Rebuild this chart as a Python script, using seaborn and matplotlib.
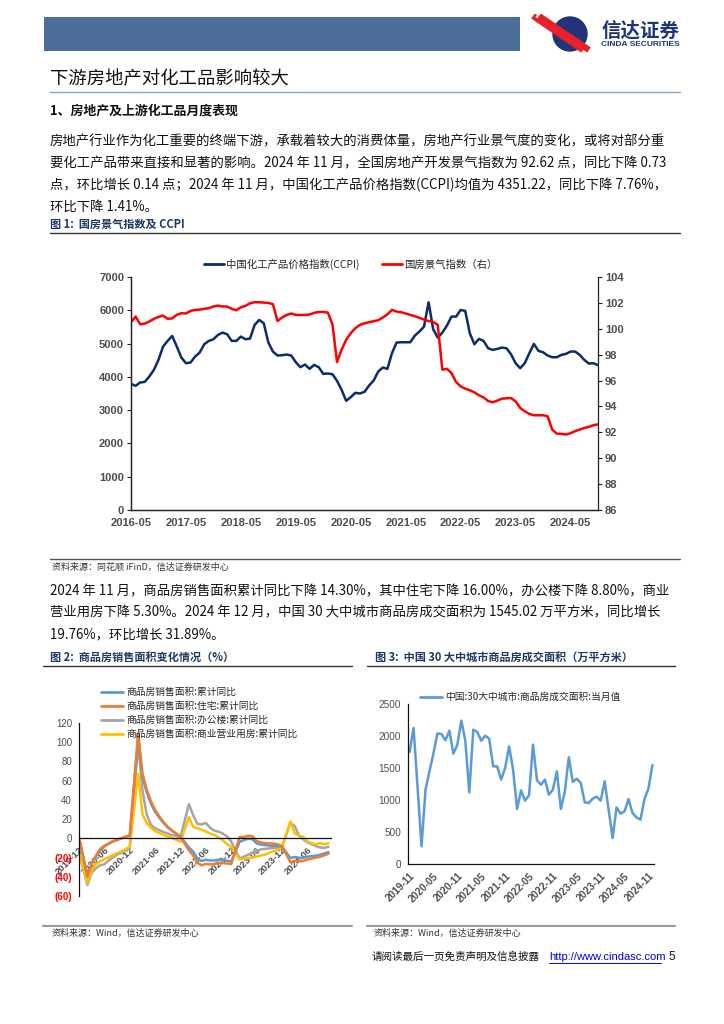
import numpy as np
import pandas as pd
import matplotlib
matplotlib.use("Agg")
import matplotlib.pyplot as plt
import matplotlib.font_manager as fm
import seaborn as sns
from matplotlib.patches import Rectangle, Circle
from matplotlib.lines import Line2D

# ---------------- data ----------------
c1_start = "2016-05"
ccpi = [3790, 3730, 3830, 3850, 4010, 4210, 4510, 4910, 5080, 5230,
        4910, 4580, 4410, 4430, 4610, 4730, 4980, 5080, 5130, 5260,
        5330, 5280, 5080, 5080, 5210, 5130, 5150, 5560, 5710, 5610,
        5030, 4760, 4640, 4650, 4670, 4640, 4440, 4290, 4370, 4240,
        4360, 4290, 4090, 4100, 4080, 3880, 3610, 3280, 3390, 3520,
        3500, 3550, 3740, 3890, 4160, 4280, 4240, 4710, 5030, 5040,
        5040, 5040, 5240, 5360, 5510, 6240, 5430, 5180, 5330, 5540,
        5810, 5810, 6010, 5980, 5310, 4980, 5140, 5080, 4860, 4810,
        4840, 4880, 4860, 4680, 4410, 4260, 4410, 4710, 4990, 4780,
        4740, 4640, 4590, 4590, 4660, 4690, 4760, 4760, 4660, 4510,
        4400, 4410, 4351.22]
rei = [100.5, 100.94, 100.35, 100.4, 100.56, 100.77, 100.92, 101.02, 100.77, 100.8,
       101.08, 101.2, 101.18, 101.38, 101.46, 101.48, 101.54, 101.59, 101.72, 101.79,
       101.72, 101.72, 101.54, 101.43, 101.66, 101.77, 101.97, 102.05, 102.05, 102.02,
       102.0, 101.9, 100.6, 100.87, 101.07, 101.18, 101.07, 101.07, 101.07, 101.1,
       101.23, 101.3, 101.3, 101.25, 100.35, 97.43, 98.38, 99.15, 99.66, 100.05,
       100.3, 100.43, 100.5, 100.59, 100.66, 100.87, 101.12, 101.46, 101.33, 101.28,
       101.18, 101.07, 100.97, 100.84, 100.71, 100.6, 100.53, 100.3, 96.84, 96.91,
       96.58, 95.89, 95.55, 95.37, 95.25, 95.09, 94.86, 94.7, 94.42, 94.32,
       94.45, 94.6, 94.63, 94.65, 94.4, 93.88, 93.63, 93.42, 93.32, 93.32,
       93.32, 93.24, 92.21, 91.9, 91.88, 91.83, 91.93, 92.09, 92.21, 92.34,
       92.42, 92.55, 92.62]
c1_names = ["中国化工产品价格指数(CCPI)", "国房景气指数（右）"]

months2 = ["2019-12"] + [f"{y}-{m:02d}" for y in range(2020, 2025) for m in range(2, 13)][:-1]
sales_total = [-0.1,
               -39.9, -26.3, -19.3, -12.3, -8.4, -5.8, -3.3, -1.8, 0.0, 1.3, 2.6,
               104.9, 63.8, 48.1, 36.3, 27.7, 21.5, 15.9, 11.3, 7.8, 4.8, 1.9,
               -9.6, -13.8, -20.9, -23.6, -22.2, -23.1, -23.0, -22.2, -22.3, -23.3, -24.3,
               -3.6, -1.8, -0.4, -0.9, -5.3, -6.5, -7.1, -7.5, -7.8, -8.0, -8.5,
               -20.5, -19.4, -20.2, -20.3, -19.0, -18.6, -18.0, -17.1, -15.8, -14.3]
sales_resid = [1.5,
               -39.2, -25.9, -18.2, -11.0, -7.6, -5.4, -2.9, -1.4, 0.2, 1.6, 3.2,
               109.6, 67.6, 51.0, 38.8, 29.4, 22.8, 16.9, 12.0, 8.2, 5.0, 1.1,
               -12.6, -17.7, -25.5, -28.1, -26.6, -27.1, -26.8, -25.7, -25.6, -26.2, -26.8,
               1.4, 1.4, 2.7, 2.3, -2.8, -4.3, -5.1, -5.3, -5.6, -6.1, -8.2,
               -24.8, -23.4, -23.8, -23.6, -21.9, -21.1, -20.1, -19.2, -17.7, -16.0]
sales_office = [-14.7,
                -48.5, -36, -31, -28, -27, -23, -20, -17, -15, -12.5, -10.4,
                99, 50, 25, 14, 10.5, 8.5, 6.5, 5, 3.5, 2.5, 1.2,
                35.6, 24, 15, 14.5, 16, 11, 8, 7, 5, 2, -3.3,
                -21, -19, -17, -15, -13, -11.5, -11, -10.5, -10, -9.5, -9.3,
                16, 13, 3, -1, -4, -6, -8, -9.5, -10, -8.8]
sales_comm = [-15.0,
              -46, -33, -27, -24, -21.5, -19.5, -17.5, -15.5, -13.5, -11.5, -8.7,
              67, 25, 16, 11, 7.5, 5.5, 3.5, 2, 0.5, -1.5, -3.5,
              22, 12, 10.5, 9, 7, 5, 3.5, 1, -2, -6, -9,
              -22, -21, -20.5, -20, -19, -18, -17, -15, -13.5, -12, -9,
              17.5, 5, 3, 1.5, -3, -5, -6.5, -5, -6, -5.3]
c2_names = ["商品房销售面积:累计同比", "商品房销售面积:住宅:累计同比",
            "商品房销售面积:办公楼:累计同比", "商品房销售面积:商业营业用房:累计同比"]
c2_ticks = ["2019-12", "2020-06", "2020-12", "2021-06", "2021-12",
            "2022-06", "2022-12", "2023-06", "2023-12", "2024-06"]

c3_start = "2019-11"
deal_area = [1750, 2125, 1200, 276, 1161, 1450, 1730, 2040, 2031, 1932,
             2083, 1724, 1865, 2240, 1927, 1120, 2099, 2063, 1927, 2005,
             1958, 1526, 1526, 1318, 1500, 1838, 1474, 859, 1151, 990,
             1073, 1865, 1307, 1240, 1318, 1083, 1161, 1448, 859, 1135,
             1667, 1281, 1333, 1266, 964, 953, 1021, 1052, 990, 1292,
             849, 406, 885, 786, 823, 1016, 797, 729, 693, 1016,
             1177, 1545.02]
c3_name = "中国:30大中城市:商品房成交面积:当月值"

# ---------------- style ----------------
W, H = 724, 1024
sns.set_style("white")
plt.rcParams["font.family"] = ["Noto Sans CJK SC", "DejaVu Sans"]
plt.rcParams["axes.unicode_minus"] = False
names = {f.name for f in fm.fontManager.ttflist}
NUMF = "Liberation Sans Narrow" if "Liberation Sans Narrow" in names else "Liberation Sans"
CJK = ["Noto Sans CJK SC", "DejaVu Sans"]

NAVY = "#0c2c6b"
TXT = "#111111"
TICKC = "#4d4d4d"

fig = plt.figure(figsize=(W / 100, H / 100), dpi=100)
fig.patch.set_facecolor("white")


def fx(x):
    return x / W


def fy(y):
    return 1 - y / H


def rect(x0, y0, x1, y1):
    return [x0 / W, 1 - y1 / H, (x1 - x0) / W, (y1 - y0) / H]


def hline(x0, x1, y, color, lw):
    fig.add_artist(Line2D([fx(x0), fx(x1)], [fy(y), fy(y)], transform=fig.transFigure,
                          color=color, lw=lw))


def txt(x, y, s, **kw):
    kw.setdefault("va", "center")
    kw.setdefault("family", CJK)
    return fig.text(fx(x), fy(y), s, **kw)


# ---------------- header ----------------
fig.add_artist(Rectangle((fx(44), fy(51)), (520 - 44) / W, (51 - 17) / H,
                         transform=fig.transFigure, color="#4c6e98", lw=0))
axl = fig.add_axes(rect(528, 14, 598, 54))
axl.set_xlim(0, 70)
axl.set_ylim(0, 40)
axl.axis("off")
axl.add_patch(Circle((42, 20), 17, color="#22337a"))
for off, col, lw in [(-3, "#e8202a", 4.5), (0, "white", 1.5), (3, "#e8202a", 4.5)]:
    axl.plot([8 + off, 58 + off], [38, 4], color=col, lw=lw, solid_capstyle="butt")
txt(601, 31, "信达证券", fontsize=14, fontweight="bold", color="#1f3577")
txt(601, 45, "CINDA SECURITIES", fontsize=6, fontweight="bold", color="#1f3577",
    family=["Liberation Sans"])

txt(50, 79, "下游房地产对化工品影响较大", fontsize=13.2, color=TXT)
hline(50, 680, 92, "#8aa3c4", 1.0)
txt(50, 111, "1、房地产及上游化工品月度表现", fontsize=9.3, fontweight="bold", color=TXT)

para1 = ["房地产行业作为化工重要的终端下游，承载着较大的消费体量，房地产行业景气度的变化，或将对部分重",
         "要化工产品带来直接和显著的影响。2024 年 11 月，全国房地产开发景气指数为 92.62 点，同比下降 0.73",
         "点，环比增长 0.14 点；2024 年 11 月，中国化工产品价格指数(CCPI)均值为 4351.22，同比下降 7.76%，",
         "环比下降 1.41%。"]
for i, s in enumerate(para1):
    txt(50, 141 + 22 * i, s, fontsize=9.6, color=TXT)

txt(50, 224, "图 1:  国房景气指数及 CCPI", fontsize=8, fontweight="bold", color="#1f3864")
hline(50, 680, 233, "#333333", 1.0)

# ---------------- chart 1 ----------------
p1 = pd.period_range(c1_start, periods=len(ccpi), freq="M")
df1 = pd.DataFrame({"m": np.arange(len(ccpi)), "ccpi": ccpi, "rei": rei})
ax1 = fig.add_axes(rect(131, 277, 598, 510))
sns.lineplot(data=df1, x="m", y="ccpi", ax=ax1, color=NAVY, lw=1.8, legend=False)
ax1r = ax1.twinx()
sns.lineplot(data=df1, x="m", y="rei", ax=ax1r, color="#ff0000", lw=1.8, legend=False)
ax1.set_xlim(0, len(ccpi) - 1)
ax1.set_ylim(0, 7000)
ax1r.set_ylim(86, 104)
xt = np.arange(0, len(ccpi), 12)
ax1.set_xticks(xt)
ax1.set_xticklabels([p1[i].strftime("%Y-%m") for i in xt])
ax1.set_yticks(np.arange(0, 7001, 1000))
ax1r.set_yticks(np.arange(86, 105, 2))
for a in (ax1, ax1r):
    a.set_xlabel("")
    a.set_ylabel("")
    a.spines["top"].set_visible(False)
    for sp in a.spines.values():
        sp.set_color("#222222")
        sp.set_linewidth(0.9)
    a.tick_params(direction="out", length=3, width=0.8, colors="#222222",
                  labelsize=8, labelcolor=TICKC, pad=2, labelfontfamily=NUMF)
ax1.spines["right"].set_visible(False)
ax1.tick_params(axis="x", pad=3)
for lab in ax1.get_xticklabels() + ax1.get_yticklabels() + ax1r.get_yticklabels():
    lab.set_fontweight("bold")
h1 = [Line2D([], [], color=NAVY, lw=2), Line2D([], [], color="#ff0000", lw=2)]
ax1.legend(h1, c1_names, loc="lower center", bbox_to_anchor=(0.47, 1.03), ncol=2,
           frameon=False, fontsize=7.5, handlelength=1.9, handletextpad=0.2,
           columnspacing=2.2, borderaxespad=0, borderpad=0)

hline(50, 680, 559, "#555555", 1.0)
txt(52, 567, "资料来源：同花顺 iFinD，信达证券研发中心", fontsize=6.5, style="italic", color="#333333")

para2 = ["2024 年 11 月，商品房销售面积累计同比下降 14.30%，其中住宅下降 16.00%，办公楼下降 8.80%，商业",
         "营业用房下降 5.30%。2024 年 12 月，中国 30 大中城市商品房成交面积为 1545.02 万平方米，同比增长",
         "19.76%，环比增长 31.89%。"]
for i, s in enumerate(para2):
    txt(50, 591 + 21.5 * i, s, fontsize=9.6, color=TXT)

# ---------------- chart 2 ----------------
txt(50, 657, "图 2:  商品房销售面积变化情况（%）", fontsize=8, fontweight="bold", color="#1f3864")
hline(43, 352, 666, "#333333", 1.0)
x2 = [(int(s[:4]) - 2019) * 12 + int(s[5:]) - 12 for s in months2]
c2_cols = ["#5b9bd5", "#ed7d31", "#a5a5a5", "#ffc000"]
ax2 = fig.add_axes(rect(79, 723, 331, 896))
series2 = [sales_total, sales_resid, sales_office, sales_comm]
for order in [2, 3, 0, 1]:
    sns.lineplot(x=x2, y=series2[order], ax=ax2, color=c2_cols[order], lw=1.8, legend=False)
ax2.set_xlim(0, 59.6)
ax2.set_ylim(-60, 120)
ax2.spines["top"].set_visible(False)
ax2.spines["right"].set_visible(False)
ax2.spines["bottom"].set_position(("data", 0))
for sp in ("left", "bottom"):
    ax2.spines[sp].set_color("#111111")
    ax2.spines[sp].set_linewidth(0.9)
yt2 = np.arange(-60, 121, 20)
ax2.set_yticks(yt2)
ax2.set_yticklabels([f"({-v})" if v < 0 else f"{v}" for v in yt2])
ax2.set_xticks(np.arange(0, 55, 6))
ax2.set_xticklabels(c2_ticks, rotation=45, ha="right", rotation_mode="anchor")
ax2.tick_params(direction="out", length=3, width=0.8, colors="#111111", labelsize=7,
                labelcolor=TICKC, pad=2, labelfontfamily=NUMF)
for lab, v in zip(ax2.get_yticklabels(), yt2):
    if v < 0:
        lab.set_color("#ff0000")
        lab.set_fontweight("bold")
for lab in ax2.get_xticklabels():
    lab.set_fontweight("bold")
    lab.set_fontsize(6.8)
h2 = [Line2D([], [], color=c, lw=2) for c in c2_cols]
fig.legend(h2, c2_names, loc="upper left", bbox_to_anchor=(fx(101), fy(687)), frameon=False,
           fontsize=7, handlelength=2.3, handletextpad=0.3, labelspacing=0.42,
           borderaxespad=0, borderpad=0)
hline(43, 352, 926, "#999999", 1.5)
txt(52, 933, "资料来源：Wind，信达证券研发中心", fontsize=6.5, style="italic", color="#333333")

# ---------------- chart 3 ----------------
txt(375, 657, "图 3:  中国 30 大中城市商品房成交面积（万平方米）", fontsize=8, fontweight="bold",
    color="#1f3864")
hline(367, 675, 666, "#333333", 1.0)
p3 = pd.period_range(c3_start, periods=len(deal_area), freq="M")
ax3 = fig.add_axes(rect(408, 704, 654, 864))
sns.lineplot(x=np.arange(len(deal_area)), y=deal_area, ax=ax3, color="#5b9bd5", lw=1.8,
             legend=False)
ax3.set_xlim(-0.4, len(deal_area) - 0.6)
ax3.set_ylim(0, 2500)
ax3.set_yticks(np.arange(0, 2501, 500))
xt3 = np.arange(0, len(deal_area), 6)
ax3.set_xticks(xt3)
ax3.set_xticklabels([p3[i].strftime("%Y-%m") for i in xt3], rotation=45, ha="right",
                    rotation_mode="anchor")
ax3.spines["top"].set_visible(False)
ax3.spines["right"].set_visible(False)
for sp in ("left", "bottom"):
    ax3.spines[sp].set_color("#111111")
    ax3.spines[sp].set_linewidth(0.9)
ax3.tick_params(direction="out", length=3, width=0.8, colors="#111111", labelsize=7.2,
                labelcolor=TICKC, pad=2, labelfontfamily=NUMF)
for lab in ax3.get_xticklabels():
    lab.set_fontweight("bold")
fig.legend([Line2D([], [], color="#5b9bd5", lw=2)], [c3_name], loc="center left",
           bbox_to_anchor=(fx(420), fy(697)), frameon=False, fontsize=7, handlelength=2.3,
           handletextpad=0.3, borderaxespad=0, borderpad=0)
hline(367, 675, 926, "#999999", 1.5)
txt(374, 933, "资料来源：Wind，信达证券研发中心", fontsize=6.5, style="italic", color="#333333")

# ---------------- footer ----------------
txt(372, 957, "请阅读最后一页免责声明及信息披露", fontsize=7.6, color=TXT)
lk = txt(549, 957, "http://www.cindasc.com", fontsize=8, color="#0000ee", family=["Liberation Sans"])
hline(549, 661, 963, "#0000ee", 0.7)
txt(668, 957, "5", fontsize=8.5, color=TXT, family=["Liberation Sans"])

fig.savefig("out.png", dpi=100, facecolor="white")
